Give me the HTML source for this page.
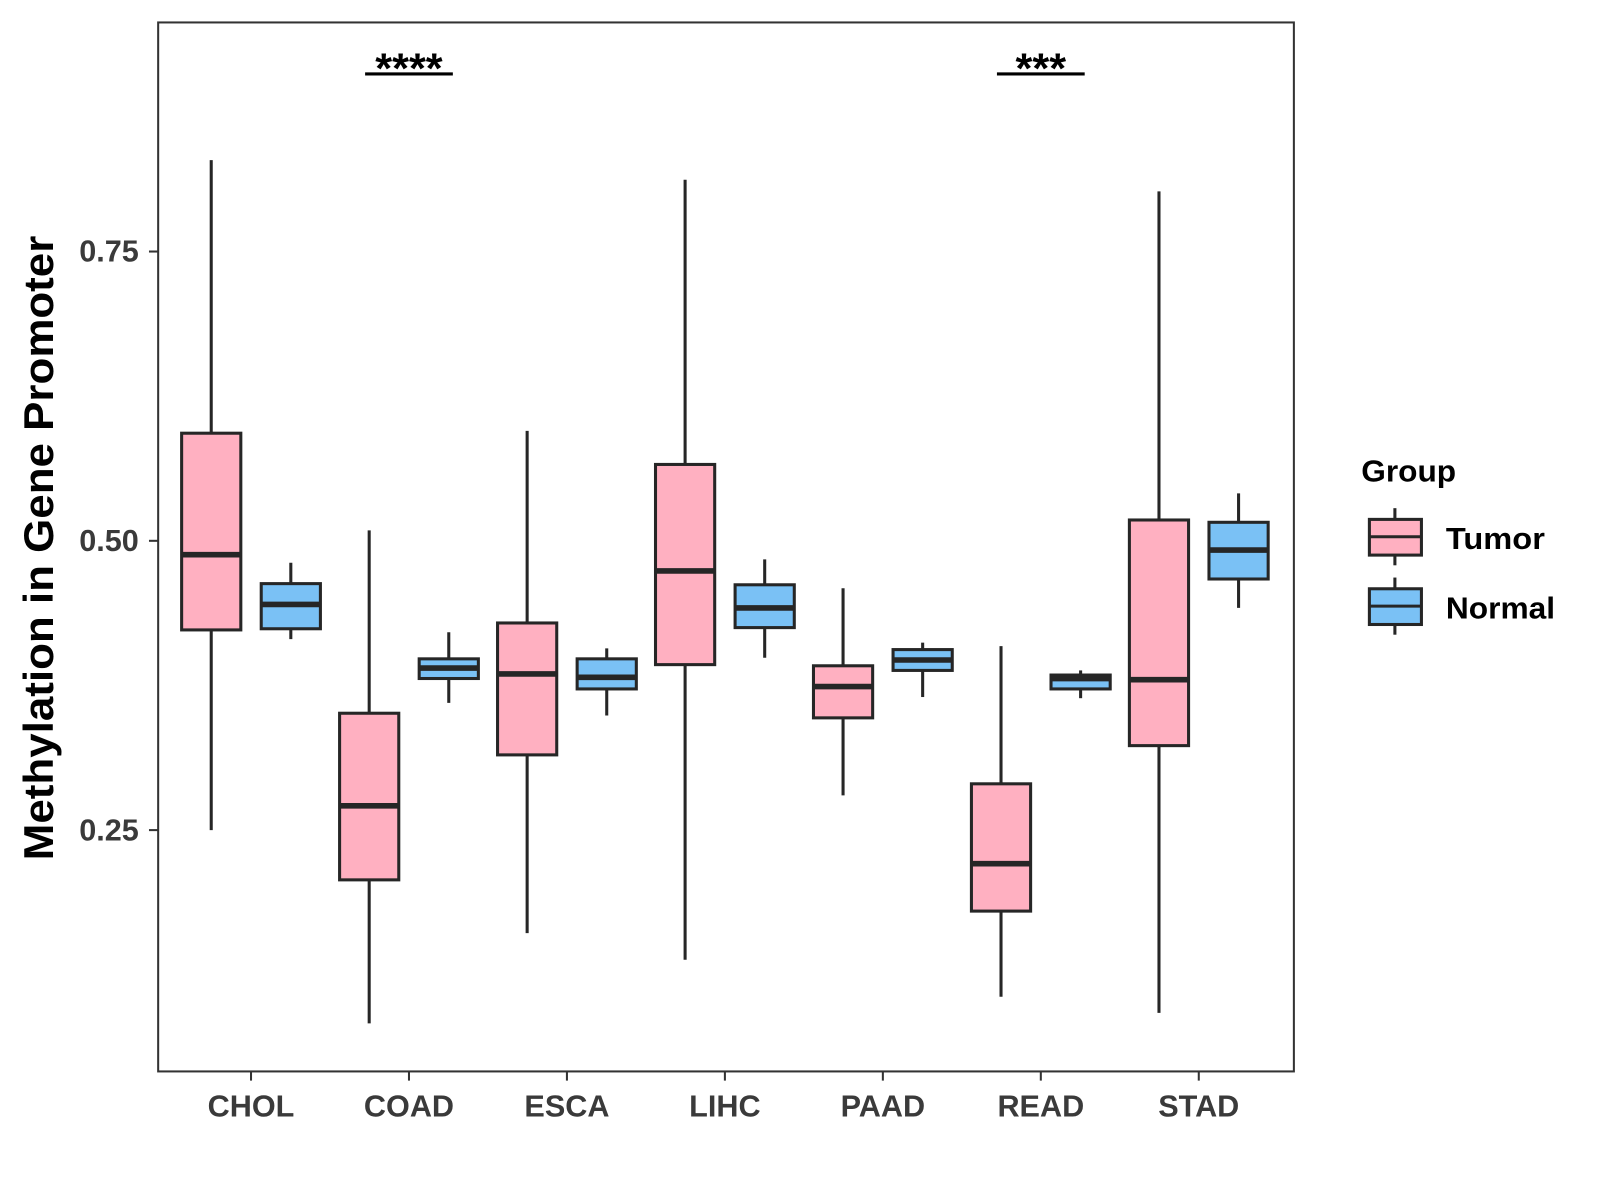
<!DOCTYPE html>
<html><head><meta charset="utf-8"><style>
html,body{margin:0;padding:0;background:#fff;}
svg{display:block;font-family:"Liberation Sans",Arial,sans-serif;}
</style></head><body>
<svg id="chart" width="1600" height="1200" viewBox="0 0 1568 1176" xmlns="http://www.w3.org/2000/svg">
<rect x="0" y="0" width="1568" height="1176" fill="#fff"/>
<g id="marks"></g>
<rect x="155" y="22" width="1113" height="1028" fill="none" stroke="#333" stroke-width="2"/>
<g id="axes"></g>
<text transform="translate(52,537) rotate(-90)" text-anchor="middle" font-size="41" font-weight="bold" fill="#000" textLength="612" lengthAdjust="spacingAndGlyphs">Methylation in Gene Promoter</text>
<g>
<text x="1334" y="472" font-size="30" font-weight="bold" fill="#000" textLength="93" lengthAdjust="spacingAndGlyphs">Group</text>
<g>
<line x1="1367" y1="498" x2="1367" y2="554" stroke="#262626" stroke-width="3"/>
<rect x="1342" y="509" width="51" height="35" fill="#FFB0C1" stroke="#262626" stroke-width="3"/>
<line x1="1342" y1="526" x2="1393" y2="526" stroke="#262626" stroke-width="3"/>
<text x="1417" y="538" font-size="30" font-weight="bold" fill="#000" textLength="97" lengthAdjust="spacingAndGlyphs">Tumor</text>
</g>
<g>
<line x1="1367" y1="566" x2="1367" y2="622" stroke="#262626" stroke-width="3"/>
<rect x="1342" y="577" width="51" height="35" fill="#7AC1F5" stroke="#262626" stroke-width="3"/>
<line x1="1342" y1="594" x2="1393" y2="594" stroke="#262626" stroke-width="3"/>
<text x="1417" y="606" font-size="30" font-weight="bold" fill="#000" textLength="107" lengthAdjust="spacingAndGlyphs">Normal</text>
</g>
</g>
</svg>
<script>
const categories = ["CHOL","COAD","ESCA","LIHC","PAAD","READ","STAD"];
// [lower whisker, Q1, median, Q3, upper whisker]
const tumorStats = [
 [0.250,0.423,0.488,0.593,0.829],
 [0.083,0.207,0.271,0.351,0.509],
 [0.161,0.315,0.385,0.429,0.595],
 [0.138,0.393,0.474,0.566,0.812],
 [0.280,0.347,0.374,0.392,0.459],
 [0.106,0.180,0.221,0.290,0.409],
 [0.092,0.323,0.380,0.518,0.802]
];
const normalStats = [
 [0.415,0.424,0.445,0.463,0.481],
 [0.360,0.381,0.390,0.398,0.421],
 [0.349,0.372,0.382,0.398,0.407],
 [0.399,0.425,0.442,0.462,0.484],
 [0.365,0.388,0.397,0.406,0.412],
 [0.364,0.372,0.381,0.384,0.388],
 [0.442,0.467,0.492,0.516,0.541]
];
const yTicks = [0.25,0.50,0.75];
const yTickLabels = ["0.25","0.50","0.75"];
const sigCategories = ["COAD","READ"];
const sigLabels = ["****","***"];
const sigLevel = 0.9035;

const NS="http://www.w3.org/2000/svg";
function yScale(v){return 530-(v-0.5)*1134;}
function xScale(i){return 246+i*154.8;}
function mk(tag,attrs,parent){const e=document.createElementNS(NS,tag);for(const k in attrs)e.setAttribute(k,attrs[k]);parent.appendChild(e);return e;}
const marks=document.getElementById('marks');
const axes=document.getElementById('axes');
const bw=58;
function drawBox(s,cx,fill,name){
  const g=mk('g',{},marks);
  
  
  mk('line',{x1:cx,x2:cx,y1:yScale(s[4]),y2:yScale(s[0]),stroke:'#262626','stroke-width':3},g);
  mk('rect',{x:cx-bw/2,y:yScale(s[3]),width:bw,height:yScale(s[1])-yScale(s[3]),fill:fill,stroke:'#262626','stroke-width':3},g);
  mk('line',{x1:cx-bw/2,x2:cx+bw/2,y1:yScale(s[2]),y2:yScale(s[2]),stroke:'#262626','stroke-width':5.5},g);
}
categories.forEach((c,i)=>{
  const cx=xScale(i);
  drawBox(tumorStats[i],cx-39,'#FFB0C1','box-'+c.toLowerCase()+'-tumor');
  drawBox(normalStats[i],cx+39,'#7AC1F5','box-'+c.toLowerCase()+'-normal');
  const t=mk('line',{x1:cx,x2:cx,y1:1050,y2:1059,stroke:'#333','stroke-width':2},axes);
  
  
  const l=mk('text',{x:cx,y:1094,'text-anchor':'middle','font-size':30,'font-weight':'bold',fill:'#3a3a3a'},axes);
  l.textContent=c;
  
  
});
yTicks.forEach((v,i)=>{
  const y=yScale(v);
  const t=mk('line',{x1:146,x2:155,y1:y,y2:y,stroke:'#333','stroke-width':2},axes);
  
  
  const l=mk('text',{x:136,y:y+10,'text-anchor':'end','font-size':30,'font-weight':'bold',fill:'#3a3a3a'},axes);
  l.textContent=yTickLabels[i];
  
  
});
sigCategories.forEach((c,k)=>{
  const i=categories.indexOf(c);
  const cx=xScale(i);
  const y=yScale(sigLevel);
  const ln=mk('line',{x1:cx-43,x2:cx+43,y1:y,y2:y,stroke:'#000','stroke-width':3},marks);
  
  
  const tx=mk('text',{x:cx,y:y+9,'text-anchor':'middle','font-size':42,'font-weight':'bold',fill:'#000',textLength:sigLabels[k].length*16.5,lengthAdjust:'spacingAndGlyphs'},marks);
  tx.textContent=sigLabels[k];
  
  
});
</script>
</body></html>
